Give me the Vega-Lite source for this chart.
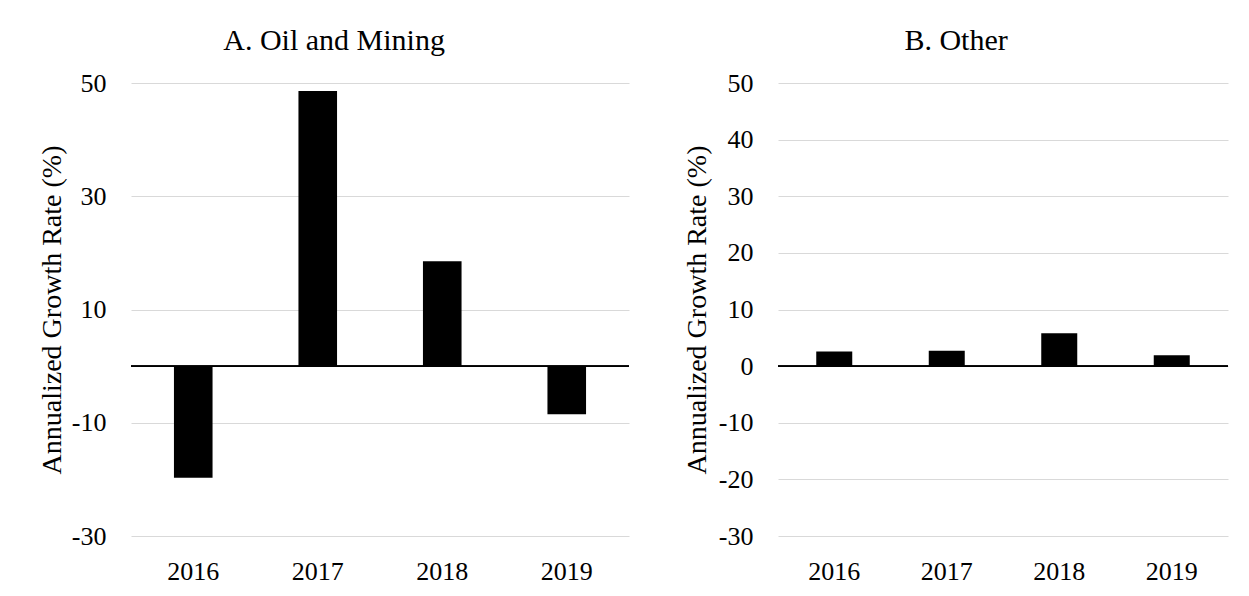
{
  "$schema": "https://vega.github.io/schema/vega-lite/v6.json",
  "background": "white",
  "padding": {"left": 38, "top": 26, "right": 20, "bottom": 5},
  "bounds": "flush",
  "spacing": 149,
  "data": {"values": [
    {"panel": "A", "year": "2016", "rate": -19.7},
    {"panel": "A", "year": "2017", "rate": 48.6},
    {"panel": "A", "year": "2018", "rate": 18.5},
    {"panel": "A", "year": "2019", "rate": -8.5},
    {"panel": "B", "year": "2016", "rate": 2.6},
    {"panel": "B", "year": "2017", "rate": 2.7},
    {"panel": "B", "year": "2018", "rate": 5.8},
    {"panel": "B", "year": "2019", "rate": 1.9}
  ]},
  "config": {
    "font": "Liberation Serif",
    "view": {"stroke": null},
    "axis": {
      "labelFont": "Liberation Serif",
      "titleFont": "Liberation Serif",
      "labelFontSize": 26,
      "titleFontSize": 28,
      "labelColor": "#000000",
      "titleColor": "#000000",
      "titleFontWeight": "normal",
      "domain": false,
      "ticks": false,
      "tickSize": 0
    },
    "title": {
      "font": "Liberation Serif",
      "fontSize": 30,
      "fontWeight": "normal",
      "color": "#000000",
      "anchor": "middle",
      "frame": "bounds",
      "baseline": "alphabetic",
      "offset": 14
    }
  },
  "hconcat": [
    {
      "title": "A. Oil and Mining",
      "width": 498,
      "height": 453,
      "transform": [{"filter": "datum.panel === 'A'"}],
      "layer": [
        {
          "mark": {"type": "bar", "color": "#000000"},
          "encoding": {
            "x": {"field": "year", "type": "ordinal",
                  "scale": {"paddingInner": 0.69, "paddingOuter": 0.345},
                  "axis": {"title": null, "labelAngle": 0, "labelPadding": 22, "grid": false}},
            "y": {"field": "rate", "type": "quantitative",
                  "scale": {"domain": [-30, 50], "nice": false},
                  "axis": {"title": "Annualized Growth Rate (%)", "values": [-30, -10, 10, 30, 50],
                           "labelExpr": "replace(datum.label, '−', '-')",
                           "labelPadding": 25, "titlePadding": 5, "grid": true,
                           "gridColor": "#d9d9d9", "gridWidth": 1.2}}
          }
        },
        {
          "mark": {"type": "rule", "color": "#000000", "strokeWidth": 1.5},
          "encoding": {"y": {"datum": 0}}
        }
      ]
    },
    {
      "title": "B. Other",
      "width": 450,
      "height": 453,
      "transform": [{"filter": "datum.panel === 'B'"}],
      "layer": [
        {
          "mark": {"type": "bar", "color": "#000000"},
          "encoding": {
            "x": {"field": "year", "type": "ordinal",
                  "scale": {"paddingInner": 0.68, "paddingOuter": 0.34},
                  "axis": {"title": null, "labelAngle": 0, "labelPadding": 22, "grid": false}},
            "y": {"field": "rate", "type": "quantitative",
                  "scale": {"domain": [-30, 50], "nice": false},
                  "axis": {"title": "Annualized Growth Rate (%)", "values": [-30, -20, -10, 0, 10, 20, 30, 40, 50],
                           "labelExpr": "replace(datum.label, '−', '-')",
                           "labelPadding": 25, "titlePadding": 7, "grid": true,
                           "gridColor": "#d9d9d9", "gridWidth": 1.2}}
          }
        },
        {
          "mark": {"type": "rule", "color": "#000000", "strokeWidth": 1.5},
          "encoding": {"y": {"datum": 0}}
        }
      ]
    }
  ]
}
